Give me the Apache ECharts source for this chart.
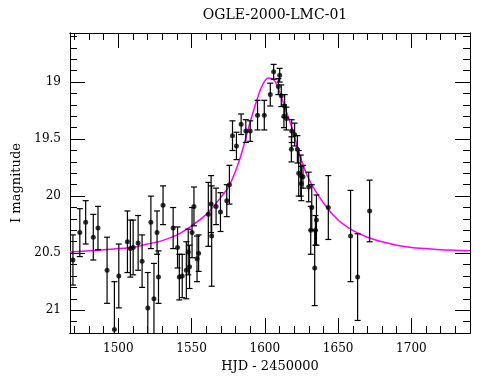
<!DOCTYPE html>
<html>
<head>
<meta charset="utf-8">
<script src="https://cdn.jsdelivr.net/npm/echarts@6/dist/echarts.min.js"></script>
<style>html,body{margin:0;padding:0;background:#fff}#c{width:490px;height:380px}</style>
</head>
<body>
<div id="c"></div>
<script>
// Observed photometry: HJD-2450000, I magnitude, error
const hjd = [1469.0,1473.7,1477.7,1482.9,1486.1,1492.3,1497.3,1500.3,1506.2,1508.2,1510.1,1513.5,1516.2,1520.1,1522.2,1524.3,1526.4,1527.4,1530.5,1537.4,1540.4,1541.6,1543.6,1546.4,1547.7,1548.6,1550.3,1551.6,1553.7,1554.8,1561.4,1563.3,1563.7,1566.7,1569.7,1574.0,1575.8,1577.9,1580.6,1583.8,1587.0,1590.0,1595.0,1599.6,1603.7,1606.0,1609.2,1610.1,1611.2,1613.0,1613.5,1614.7,1618.1,1618.3,1620.3,1622.2,1623.1,1624.5,1624.9,1626.0,1629.9,1631.3,1632.0,1634.0,1634.5,1635.2,1643.3,1658.5,1663.3,1671.5];
const mag = [20.56,20.32,20.23,20.36,20.28,20.65,21.17,20.70,20.40,20.46,20.45,20.41,20.57,20.98,20.23,20.90,20.32,20.71,20.08,20.28,20.45,20.71,20.70,20.65,20.49,20.62,20.32,20.09,20.55,20.50,20.16,20.07,20.35,20.09,20.14,20.04,19.90,19.47,19.56,19.37,19.43,19.43,19.29,19.29,19.11,18.91,19.04,18.94,19.12,19.30,19.21,19.32,19.59,19.43,19.46,19.59,19.80,19.82,19.89,19.83,19.92,20.30,20.10,20.63,20.30,20.21,20.10,20.35,20.71,20.13];
const magErr = [0.22,0.21,0.19,0.20,0.19,0.29,0.42,0.28,0.27,0.25,0.24,0.24,0.23,0.31,0.23,0.31,0.19,0.23,0.17,0.18,0.18,0.20,0.19,0.25,0.20,0.19,0.22,0.17,0.20,0.16,0.28,0.25,0.44,0.16,0.17,0.14,0.17,0.13,0.12,0.09,0.10,0.09,0.13,0.13,0.10,0.065,0.07,0.06,0.095,0.10,0.10,0.10,0.11,0.10,0.10,0.12,0.20,0.18,0.15,0.10,0.13,0.21,0.20,0.33,0.13,0.22,0.28,0.40,0.38,0.27];

// Model light curve
const modelHjd = [1467,1480,1490,1500,1510,1520,1530,1540,1550,1560,1570,1576,1583,1589.5,1595,1598.6,1602.5,1606,1609,1611.2,1614.7,1619.2,1623.8,1630,1640,1650,1660,1670,1680,1690,1700,1710,1720,1730,1740];
const modelMag = [20.49,20.48,20.47,20.46,20.45,20.42,20.39,20.34,20.26,20.16,20.01,19.90,19.67,19.37,19.14,19.02,18.965,18.98,19.05,19.13,19.26,19.43,19.64,19.85,20.06,20.21,20.30,20.36,20.40,20.43,20.45,20.46,20.47,20.475,20.48];

// Axis ticks
const xMajorTicks = [1500,1550,1600,1650,1700];
const yMajorTicks = [19,19.5,20,20.5,21];
const xRange = [1467,1740];
const yRange = [18.57,21.2];

const xMinorTicks = [];
for (let v = 1470; v <= 1740; v += 10) if (v % 50 !== 0) xMinorTicks.push(v);
const yMinorTicks = [];
for (let i = 186; i <= 211; i++) { const v = i / 10; if (i % 5 !== 0) yMinorTicks.push(v); }

const FONT = 'DejaVu Serif';
const pts = hjd.map((x, i) => [x, mag[i], magErr[i]]);
const model = modelHjd.map((x, i) => [x, modelMag[i]]);

function xAxisDef(pos, ticks, len, labels) {
  return {
    type: 'value', position: pos, min: xRange[0], max: xRange[1],
    axisLine: { show: true, onZero: false, lineStyle: { color: '#000', width: 1 } },
    axisTick: { show: true, inside: true, length: len, customValues: ticks, lineStyle: { color: '#000', width: 1 } },
    axisLabel: labels ? { show: true, customValues: ticks, formatter: v => String(v), color: '#000', fontFamily: FONT, fontSize: 12, margin: 10 } : { show: false },
    splitLine: { show: false },
    name: labels ? 'HJD - 2450000' : '', nameLocation: 'middle', nameGap: 27,
    nameTextStyle: { color: '#000', fontFamily: FONT, fontSize: 13 }
  };
}
function yAxisDef(pos, ticks, len, labels) {
  return {
    type: 'value', position: pos, min: yRange[0], max: yRange[1], inverse: true,
    axisLine: { show: true, onZero: false, lineStyle: { color: '#000', width: 1 } },
    axisTick: { show: true, inside: true, length: len, customValues: ticks, lineStyle: { color: '#000', width: 1 } },
    axisLabel: labels ? { show: true, customValues: ticks, formatter: v => String(v), color: '#000', fontFamily: FONT, fontSize: 12, margin: 9 } : { show: false },
    splitLine: { show: false },
    name: labels ? 'I magnitude' : '', nameLocation: 'middle', nameGap: 47, nameRotate: 90,
    nameTextStyle: { color: '#000', fontFamily: FONT, fontSize: 13 }
  };
}

const chart = echarts.init(document.getElementById('c'), null, { renderer: 'canvas' });
chart.setOption({
  animation: false,
  backgroundColor: '#fff',
  title: {
    text: 'OGLE-2000-LMC-01', left: 270, top: 3, textAlign: 'center',
    textStyle: { color: '#000', fontFamily: FONT, fontSize: 14, fontWeight: 'normal' }
  },
  grid: { left: 70, right: 20, top: 33, bottom: 47, containLabel: false },
  xAxis: [
    xAxisDef('bottom', xMajorTicks, 15, true),
    xAxisDef('top', xMajorTicks, 15, false),
    xAxisDef('bottom', xMinorTicks, 7, false),
    xAxisDef('top', xMinorTicks, 7, false)
  ],
  yAxis: [
    yAxisDef('left', yMajorTicks, 15, true),
    yAxisDef('right', yMajorTicks, 15, false),
    yAxisDef('left', yMinorTicks, 7, false),
    yAxisDef('right', yMinorTicks, 7, false)
  ],
  series: [
    {
      type: 'line', data: model, xAxisIndex: 0, yAxisIndex: 0,
      smooth: 0.4, showSymbol: false, clip: true,
      lineStyle: { color: '#ff00ff', width: 1.5 }, z: 2
    },
    {
      type: 'custom', data: pts, xAxisIndex: 0, yAxisIndex: 0, z: 3,
      renderItem: function (params, api) {
        const x = api.value(0), y = api.value(1), e = api.value(2);
        const cs = params.coordSys;
        const p1 = api.coord([x, y - e]);
        const p2 = api.coord([x, y + e]);
        const top = Math.max(cs.y, Math.min(p1[1], p2[1]));
        const bot = Math.min(cs.y + cs.height, Math.max(p1[1], p2[1]));
        const px = p1[0];
        const style = { stroke: '#000', lineWidth: 1.2 };
        const children = [
          { type: 'line', shape: { x1: px, y1: top, x2: px, y2: bot }, style: style }
        ];
        if (Math.min(p1[1], p2[1]) >= cs.y) children.push({ type: 'line', shape: { x1: px - 3, y1: top, x2: px + 3, y2: top }, style: style });
        if (Math.max(p1[1], p2[1]) <= cs.y + cs.height) children.push({ type: 'line', shape: { x1: px - 3, y1: bot, x2: px + 3, y2: bot }, style: style });
        return { type: 'group', children: children };
      }
    },
    {
      type: 'scatter', data: pts.map(p => [p[0], p[1]]), xAxisIndex: 0, yAxisIndex: 0,
      symbol: 'circle', symbolSize: 5, itemStyle: { color: '#000' }, z: 4
    }
  ]
});
</script>
</body>
</html>
